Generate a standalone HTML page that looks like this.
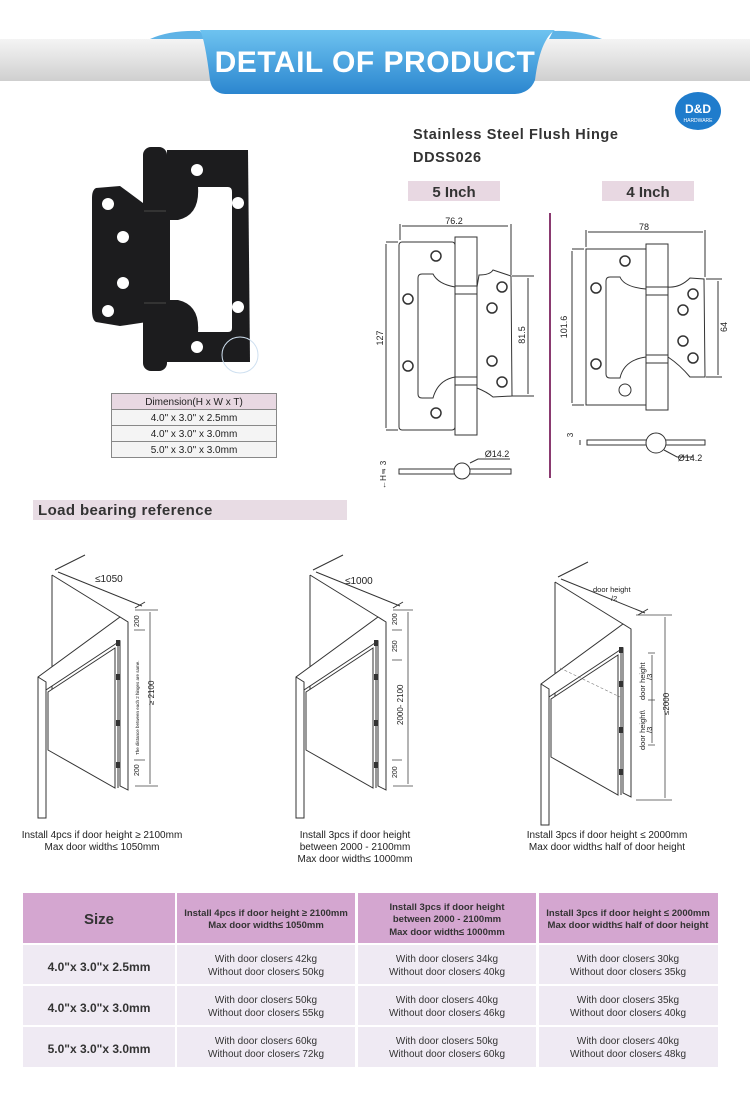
<!DOCTYPE html>
<html><head><meta charset="utf-8"><style>
body{margin:0;width:750px;height:1088px;background:#fff;overflow:hidden;font-family:"Liberation Sans",sans-serif}
svg text{font-family:"Liberation Sans",sans-serif}
</style></head><body>
<svg width="750" height="1088" viewBox="0 0 750 1088" xmlns="http://www.w3.org/2000/svg">
<defs>
<linearGradient id="gb" x1="0" y1="0" x2="0" y2="1"><stop offset="0" stop-color="#f4f4f4"/><stop offset="0.5" stop-color="#e2e2e2"/><stop offset="1" stop-color="#cfcfcf"/></linearGradient>
<linearGradient id="bl" x1="0" y1="0" x2="0" y2="1"><stop offset="0" stop-color="#6ec3f0"/><stop offset="1" stop-color="#2b86cf"/></linearGradient>
</defs>
<rect x="0" y="39" width="750" height="42" fill="url(#gb)"/>
<path d="M150 39 Q170 30 200 31 L206 39 Z" fill="#5fb3e6"/>
<path d="M549 39 L553 31 Q580 30 602 39 Z" fill="#5fb3e6"/>
<path d="M200 30 L555 30 Q540 40 535 80 Q530 93 515 94 L225 94 Q212 93 210 80 Q205 40 200 30 Z" fill="url(#bl)"/>
<text x="375" y="72" text-anchor="middle" font-size="30" font-weight="bold" fill="#fff" letter-spacing="0.5">DETAIL OF PRODUCT</text>
<ellipse cx="698" cy="111" rx="23" ry="19" fill="#1f7ccc"/>
<text x="698" y="113" text-anchor="middle" font-size="12" font-weight="bold" fill="#fff" font-family="Liberation Serif">D&amp;D</text>
<text x="698" y="122" text-anchor="middle" font-size="5" fill="#fff">HARDWARE</text>

<g fill="#1c1c1e">
<path d="M96 188 L120 186 L147 206 L147 322 L120 326 L96 322 Q92 320 92 310 L92 198 Q92 190 96 188Z"/>
<rect x="143" y="147" width="24" height="224" rx="8"/>
<path d="M167 150 L248 150 L250 362 L167 362 Z"/>
</g>
<rect x="144" y="210" width="22" height="2" fill="#333"/>
<rect x="144" y="302" width="22" height="2" fill="#333"/>
<path d="M198 187 L228 187 Q232 187 232 192 L232 328 Q232 332 228 332 L198 332 Q200 305 178 300 L170 300 L170 220 L178 220 Q200 215 198 187Z" fill="#fff"/>
<g fill="#fff"><circle cx="197" cy="170" r="6"/><circle cx="238" cy="203" r="6"/><circle cx="238" cy="307" r="6"/><circle cx="197" cy="347" r="6"/><circle cx="108" cy="204" r="6"/><circle cx="123" cy="237" r="6"/><circle cx="123" cy="283" r="6"/><circle cx="108" cy="311" r="6"/></g>
<circle cx="240" cy="355" r="18" fill="none" stroke="#cfe0f0" stroke-width="1"/>

<g font-size="10" fill="#222" text-anchor="middle">
<rect x="111.5" y="393.5" width="165" height="16" fill="#e8d8e2" stroke="#888"/>
<rect x="111.5" y="409.5" width="165" height="16" fill="#f4f4f4" stroke="#888"/>
<rect x="111.5" y="425.5" width="165" height="16" fill="#f4f4f4" stroke="#888"/>
<rect x="111.5" y="441.5" width="165" height="16" fill="#f4f4f4" stroke="#888"/>
<text x="194" y="405">Dimension(H x W x T)</text>
<text x="194" y="421">4.0" x 3.0" x 2.5mm</text>
<text x="194" y="437">4.0" x 3.0" x 3.0mm</text>
<text x="194" y="453">5.0" x 3.0" x 3.0mm</text>
</g>

<text x="413" y="139" font-size="14.5" font-weight="bold" fill="#333" letter-spacing="0.6">Stainless Steel Flush Hinge</text>
<text x="413" y="162" font-size="14.5" font-weight="bold" fill="#333" letter-spacing="0.6">DDSS026</text>
<rect x="408" y="181" width="92" height="20" fill="#e8d8e2"/>
<rect x="602" y="181" width="92" height="20" fill="#e8d8e2"/>
<text x="454" y="197" text-anchor="middle" font-size="15" font-weight="bold" fill="#333">5 Inch</text>
<text x="648" y="197" text-anchor="middle" font-size="15" font-weight="bold" fill="#333">4 Inch</text>
<line x1="550" y1="213" x2="550" y2="478" stroke="#8a3a70" stroke-width="2"/>

<g fill="none" stroke="#333" stroke-width="1">
<rect x="399" y="242" width="56" height="188" rx="3"/>
<rect x="455" y="237" width="22" height="198"/>
<path d="M477 287 L479 275 Q490 275 493 270 L511 276 L512 396 L493 397 Q487 392 477 388Z"/>
<rect x="455" y="286" width="22" height="8"/><rect x="455" y="377" width="22" height="8"/>
<path d="M422 274 L433 274 Q438 284 455 287 L455 377 Q438 380 433 398 L422 398 Q418 398 418 394 L418 278 Q418 274 422 274Z"/>
<g stroke-width="1.5"><circle cx="436" cy="256" r="5"/><circle cx="408" cy="299" r="5"/><circle cx="408" cy="366" r="5"/><circle cx="436" cy="413" r="5"/><circle cx="502" cy="287" r="5"/><circle cx="492" cy="308" r="5"/><circle cx="492" cy="361" r="5"/><circle cx="502" cy="382" r="5"/></g>
<path d="M400 224 L400 240 M511 224 L511 275 M402 226 L508 226 M386 242 L398 242 M386 430 L398 430 M386 244 L386 428 M512 276 L534 276 M512 396 L534 396 M528 278 L528 394"/>
<rect x="399" y="469" width="112" height="5"/>
<circle cx="462" cy="471" r="8" fill="#fff"/>
<path d="M470 463 L478 459 L510 459 M383 469 L383 474"/>
</g>
<g font-size="9" fill="#222" text-anchor="middle">
<text x="454" y="224">76.2</text>
<text x="383" y="338" transform="rotate(-90 383 338)">127</text>
<text x="525" y="335" transform="rotate(-90 525 335)">81.5</text>
<text x="497" y="457">Ø14.2</text>
<text x="386" y="463" transform="rotate(-90 386 463)" font-size="8">3</text>
<text x="386" y="478" transform="rotate(-90 386 478)" font-size="8">←H→</text>
</g>

<g fill="none" stroke="#333" stroke-width="1">
<rect x="586" y="249" width="60" height="156"/>
<rect x="646" y="244" width="22" height="166"/>
<path d="M668 287 Q680 288 690 278 L704 279 L705 377 L690 377 Q680 365 668 357Z"/>
<rect x="646" y="287" width="22" height="8"/><rect x="646" y="355" width="22" height="8"/>
<path d="M610 277 L620 277 Q624 287 646 289 L646 357 Q624 360 620 378 L610 378 Q606 378 606 374 L606 281 Q606 277 610 277Z"/>
<g stroke-width="1.5"><circle cx="625" cy="261" r="5"/><circle cx="596" cy="288" r="5"/><circle cx="596" cy="364" r="5"/><circle cx="693" cy="294" r="5"/><circle cx="683" cy="310" r="5"/><circle cx="683" cy="341" r="5"/><circle cx="693" cy="358" r="5"/></g>
<circle cx="625" cy="390" r="6"/>
<path d="M586 230 L586 247 M705 230 L705 277 M588 232 L703 232 M572 249 L584 249 M572 405 L584 405 M572 251 L572 403 M706 279 L722 279 M706 377 L722 377 M718 281 L718 375"/>
<rect x="587" y="440" width="118" height="5"/>
<circle cx="656" cy="443" r="10" fill="#fff"/>
<path d="M664 450 L677 457 L693 457 M580 440 L580 445"/>
</g>
<g font-size="9" fill="#222" text-anchor="middle">
<text x="644" y="230">78</text>
<text x="567" y="327" transform="rotate(-90 567 327)">101.6</text>
<text x="727" y="327" transform="rotate(-90 727 327)">64</text>
<text x="690" y="461">Ø14.2</text>
<text x="573" y="435" transform="rotate(-90 573 435)" font-size="8">3</text>
</g>

<rect x="33" y="500" width="314" height="20" fill="#e8dce4"/>
<text x="38" y="515" font-size="15" font-weight="bold" fill="#333" letter-spacing="0.4">Load bearing reference</text>

<g id="door" fill="none" stroke="#333" stroke-width="1">
<path d="M52 575 L52 690 M52 575 L120 617"/>
<path d="M38 682 L38 818 L46 818 L46 690 L120 641 L120 786 L128 790 L128 622 L120 617 L38 677 Z" fill="#fff"/>
<path d="M38 677 L46 682 L46 690"/>
<path d="M48 692 L115 648 L115 788 L48 750 Z" fill="#fff"/>
<path d="M118 641 L118 788"/>
<g fill="#333" stroke="none"><rect x="116" y="640" width="4" height="6"/><rect x="116" y="674" width="4" height="6"/><rect x="116" y="720" width="4" height="6"/><rect x="116" y="762" width="4" height="6"/></g>
<path d="M55 570 L85 555 M135 608 L145 602 M58 572 L142 606"/>
</g>
<g fill="none" stroke="#444" stroke-width="0.8">
<path d="M135 610 L158 610 M135 786 L158 786 M150 612 L150 784 M134 630 L145 630 M134 760 L145 760"/>
</g>
<g font-size="8.5" fill="#222">
<text x="95" y="582" font-size="10">≤1050</text>
<text x="139" y="627" transform="rotate(-90 139 627)" font-size="7">200</text>
<text x="139" y="776" transform="rotate(-90 139 776)" font-size="7">200</text>
<text x="154" y="705" transform="rotate(-90 154 705)" font-size="8">≥ 2100</text>
<text x="139" y="755" transform="rotate(-90 139 755)" font-size="4.5">The distance between each 2 hinges are same.</text>
</g>
<use href="#door" x="258" y="0"/>
<g fill="none" stroke="#444" stroke-width="0.8">
<path d="M393 610 L413 610 M393 786 L413 786 M408 612 L408 784 M392 630 L402 630 M392 660 L402 660 M392 760 L402 760"/>
</g>
<g font-size="8" fill="#222">
<text x="345" y="584" font-size="10">≤1000</text>
<text x="397" y="625" transform="rotate(-90 397 625)" font-size="7">200</text>
<text x="397" y="652" transform="rotate(-90 397 652)" font-size="7">250</text>
<text x="397" y="778" transform="rotate(-90 397 778)" font-size="7">200</text>
<text x="403" y="725" transform="rotate(-90 403 725)">2000- 2100</text>
</g>
<use href="#door" x="503" y="7"/>
<line x1="560" y1="668" x2="620" y2="697" stroke="#777" stroke-width="0.6" stroke-dasharray="3 2"/>
<g fill="none" stroke="#444" stroke-width="0.8">
<path d="M636 615 L672 615 M636 800 L672 800 M665 617 L665 798 M648 653 L655 653 M648 700 L655 700 M648 745 L655 745 M652 655 L652 743"/>
</g>
<g font-size="7.5" fill="#222">
<text x="593" y="592">door height</text><text x="611" y="601">/2</text>
<text x="669" y="715" transform="rotate(-90 669 715)" font-size="8">≤2000</text>
<text x="645" y="700" transform="rotate(-90 645 700)">door height</text>
<text x="652" y="680" transform="rotate(-90 652 680)">/3</text>
<text x="645" y="750" transform="rotate(-90 645 750)">door height\</text>
<text x="652" y="733" transform="rotate(-90 652 733)">/3</text>
</g>
<g font-size="10" fill="#222" text-anchor="middle">
<text x="102" y="838">Install 4pcs if door height ≥ 2100mm</text>
<text x="102" y="850">Max door width≤ 1050mm</text>
<text x="355" y="838">Install 3pcs if door height</text>
<text x="355" y="850">between 2000 - 2100mm</text>
<text x="355" y="862">Max door width≤ 1000mm</text>
<text x="607" y="838">Install 3pcs if door height ≤ 2000mm</text>
<text x="607" y="850">Max door width≤ half of door height</text>
</g>

<g>
<rect x="23" y="893" width="152" height="50" fill="#d4a6d0"/>
<rect x="177" y="893" width="178" height="50" fill="#d4a6d0"/>
<rect x="358" y="893" width="178" height="50" fill="#d4a6d0"/>
<rect x="539" y="893" width="179" height="50" fill="#d4a6d0"/>
<g fill="#efeaf3">
<rect x="23" y="945" width="152" height="39"/><rect x="177" y="945" width="178" height="39"/><rect x="358" y="945" width="178" height="39"/><rect x="539" y="945" width="179" height="39"/>
<rect x="23" y="986" width="152" height="39"/><rect x="177" y="986" width="178" height="39"/><rect x="358" y="986" width="178" height="39"/><rect x="539" y="986" width="179" height="39"/>
<rect x="23" y="1027" width="152" height="40"/><rect x="177" y="1027" width="178" height="40"/><rect x="358" y="1027" width="178" height="40"/><rect x="539" y="1027" width="179" height="40"/>
</g>
<g fill="#333" text-anchor="middle">
<text x="99" y="924" font-size="15" font-weight="bold">Size</text>
<g font-size="9.5" font-weight="bold">
<text x="266" y="916">Install 4pcs if door height ≥ 2100mm</text>
<text x="266" y="928">Max door width≤ 1050mm</text>
<text x="447" y="910">Install 3pcs if door height</text>
<text x="447" y="922">between 2000 - 2100mm</text>
<text x="447" y="935">Max door width≤ 1000mm</text>
<text x="628" y="916">Install 3pcs if door height ≤ 2000mm</text>
<text x="628" y="928">Max door width≤ half of door height</text>
</g>
<g font-size="12" font-weight="bold">
<text x="99" y="971">4.0"x 3.0"x 2.5mm</text>
<text x="99" y="1012">4.0"x 3.0"x 3.0mm</text>
<text x="99" y="1053">5.0"x 3.0"x 3.0mm</text>
</g>
<g font-size="10">
<text x="266" y="962">With door closer≤ 42kg</text><text x="266" y="975">Without door closer≤ 50kg</text>
<text x="447" y="962">With door closer≤ 34kg</text><text x="447" y="975">Without door closer≤ 40kg</text>
<text x="628" y="962">With door closer≤ 30kg</text><text x="628" y="975">Without door closer≤ 35kg</text>
<text x="266" y="1003">With door closer≤ 50kg</text><text x="266" y="1016">Without door closer≤ 55kg</text>
<text x="447" y="1003">With door closer≤ 40kg</text><text x="447" y="1016">Without door closer≤ 46kg</text>
<text x="628" y="1003">With door closer≤ 35kg</text><text x="628" y="1016">Without door closer≤ 40kg</text>
<text x="266" y="1044">With door closer≤ 60kg</text><text x="266" y="1057">Without door closer≤ 72kg</text>
<text x="447" y="1044">With door closer≤ 50kg</text><text x="447" y="1057">Without door closer≤ 60kg</text>
<text x="628" y="1044">With door closer≤ 40kg</text><text x="628" y="1057">Without door closer≤ 48kg</text>
</g>
</g>
</g>
</svg>
</body></html>
